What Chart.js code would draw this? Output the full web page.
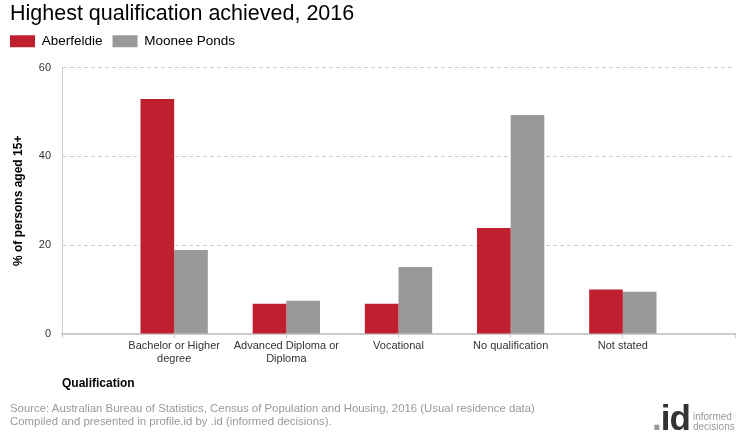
<!DOCTYPE html>
<html>
<head>
<meta charset="utf-8">
<script src="https://cdn.jsdelivr.net/npm/chart.js@4"></script>
<style>
    body { margin: 0; background: #fff; font-family: "Liberation Sans", Arial, sans-serif; }
    #wrap { position: relative; width: 740px; height: 440px; }
    .title { position: absolute; left: 10px; top: 1px; font-size: 21.5px; line-height: 25px; color: #000; white-space: nowrap; }
    .source { position: absolute; left: 10px; top: 402px; font-size: 11.4px; line-height: 13px; color: #999; white-space: nowrap; }
    .logo { position: absolute; left: 652px; top: 400px; width: 88px; height: 40px; }
    .logo .mark { position: absolute; left: 0; top: 0; font-size: 35px; font-weight: bold; color: #333; letter-spacing: -1px; line-height: 35px; }
    .logo .mark span { color: #999; }
    .logo .txt { position: absolute; left: 41px; top: 12px; font-size: 10px; line-height: 10px; color: #999; }
</style>
</head>
<body>
<div id="wrap">
    <canvas id="myChart" width="740" height="440"></canvas>
    <div class="title">Highest qualification achieved, 2016</div>
    <div class="source">Source: Australian Bureau of Statistics, Census of Population and Housing, 2016 (Usual residence data)<br>Compiled and presented in profile.id by .id (informed decisions).</div>
    <div class="logo"><div class="mark"><span>.</span>id</div><div class="txt">informed<br>decisions</div></div>
</div>
<script>
// empty slots at both ends keep the axis running past the first and last bar
const categories = ['', ['Bachelor or Higher', 'degree'], ['Advanced Diploma or', 'Diploma'], 'Vocational', 'No qualification', 'Not stated', ''];
const aberfeldie = [null, 52.9, 6.8, 6.8, 23.9, 10.0, null];
const mooneePonds = [null, 18.9, 7.5, 15.1, 49.3, 9.5, null];
const yTicks = [0, 20, 40, 60];

const FONT = "'Liberation Sans', Arial, sans-serif";

document.addEventListener('DOMContentLoaded', () => {
    const ctx = document.getElementById('myChart').getContext('2d');

    new Chart(ctx, {
        type: 'bar',
        data: {
            labels: categories,
            datasets: [
                { label: 'Aberfeldie', data: aberfeldie, backgroundColor: '#c01f2f' },
                { label: 'Moonee Ponds', data: mooneePonds, backgroundColor: '#999999' }
            ]
        },
        options: {
            responsive: false,
            animation: false,
            barPercentage: 1,
            categoryPercentage: 0.6,
            // top padding leaves room for the html title
            layout: { padding: { left: 0, right: 5, top: 24.5, bottom: 48 } },
            plugins: {
                tooltip: { enabled: false },
                legend: {
                    align: 'start',
                    labels: {
                        color: '#000',
                        boxWidth: 25,
                        boxHeight: 12,
                        padding: 10,
                        font: { family: FONT, size: 13.5 }
                    }
                },
                // empty subtitle used as a gap between legend and plot
                subtitle: {
                    display: true,
                    text: '',
                    weight: 500,
                    padding: 0,
                    font: { size: 8 }
                }
            },
            scales: {
                x: {
                    offset: false,
                    afterFit: (scale) => { scale.height = 58; },
                    grid: {
                        offset: false,
                        drawOnChartArea: false,
                        color: '#cccccc',
                        tickLength: 4
                    },
                    border: { color: '#cccccc', width: 2 },
                    ticks: {
                        color: '#333',
                        maxRotation: 0,
                        autoSkip: false,
                        padding: 1,
                        font: { family: FONT, size: 11 }
                    },
                    title: {
                        display: true,
                        text: 'Qualification',
                        align: 'start',
                        color: '#000',
                        font: { family: FONT, size: 12, weight: 'bold' },
                        padding: { top: 8, bottom: 1 }
                    }
                },
                y: {
                    min: 0,
                    max: 60,
                    afterFit: (scale) => { scale.width = 62; },
                    afterBuildTicks: (scale) => { scale.ticks = yTicks.map(v => ({ value: v })); },
                    grid: {
                        color: '#cccccc',
                        drawTicks: false
                    },
                    border: { color: '#cccccc', dash: [4, 3], display: true },
                    ticks: {
                        color: '#333',
                        padding: 11,
                        font: { family: FONT, size: 11 }
                    },
                    title: {
                        display: true,
                        text: '% of persons aged 15+',
                        color: '#000',
                        font: { family: FONT, size: 12, weight: 'bold' },
                        padding: { top: 11, bottom: 0 }
                    }
                }
            }
        }
    });
});
</script>
</body>
</html>
